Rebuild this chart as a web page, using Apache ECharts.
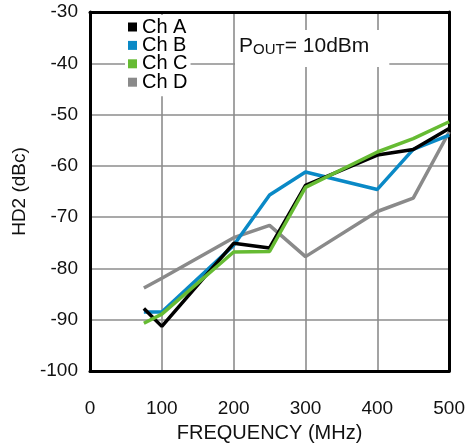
<!DOCTYPE html>
<html>
<head>
<meta charset="utf-8">
<script src="https://cdn.jsdelivr.net/npm/echarts@6/dist/echarts.min.js"></script>
<style>html,body{margin:0;padding:0;background:#fff;}#c{width:468px;height:448px;}</style>
</head>
<body>
<div id="c"></div>
<script>
// Data (frequency MHz, HD2 dBc)
const seriesNames = ['Ch A', 'Ch B', 'Ch C', 'Ch D'];
const chA = [[75, -87.8], [100, -91.3], [200, -75.1], [250, -76.0], [300, -63.8], [400, -57.9], [450, -56.8], [500, -52.7]];
const chB = [[75, -88.5], [100, -88.5], [200, -75.5], [250, -65.7], [300, -61.2], [400, -64.6], [450, -56.8], [500, -54.0]];
const chC = [[75, -90.7], [100, -88.9], [200, -76.8], [250, -76.7], [300, -64.2], [400, -57.3], [450, -54.7], [500, -51.4]];
const chD = [[75, -83.8], [100, -81.9], [200, -74.0], [250, -71.6], [300, -77.7], [400, -68.9], [450, -66.3], [500, -53.4]];
const xTicks = [0, 100, 200, 300, 400, 500];
const yTicks = [-100, -90, -80, -70, -60, -50, -40, -30];

const colors = {'Ch A': '#000000', 'Ch B': '#0a89c6', 'Ch C': '#66bb33', 'Ch D': '#8a8a8a'};
const dataMap = {'Ch A': chA, 'Ch B': chB, 'Ch C': chC, 'Ch D': chD};
const drawOrder = ['Ch D', 'Ch B', 'Ch A', 'Ch C'];
const FONT = '"Liberation Sans", Arial, sans-serif';

const chart = echarts.init(document.getElementById('c'), null, {renderer: 'canvas'});
const gridLine = {show: true, lineStyle: {color: '#8c8c8c', width: 1.6}};
const border = {show: true, onZero: false, lineStyle: {color: '#000', width: 3}};
chart.setOption({
  animation: false,
  backgroundColor: '#fff',
  grid: {left: 90, right: 18, top: 12, bottom: 77},
  title: {
    text: '{a|P}{b|OUT}{a|= 10dBm}',
    left: 235, top: 30,
    backgroundColor: '#fff',
    padding: [6, 20, 10, 4],
    textStyle: {
      fontWeight: 'normal',
      rich: {
        a: {fontFamily: FONT, fontSize: 21, lineHeight: 21, fontWeight: 'normal', color: '#111', verticalAlign: 'bottom'},
        b: {fontFamily: FONT, fontSize: 15, lineHeight: 15, fontWeight: 'normal', color: '#111', verticalAlign: 'bottom'}
      }
    }
  },
  legend: {
    data: seriesNames,
    orient: 'vertical',
    left: 125, top: 15,
    icon: 'rect',
    itemWidth: 9, itemHeight: 9,
    itemGap: -1.6,
    backgroundColor: '#fff',
    padding: [2, 3, 4, 3],
    textStyle: {fontFamily: FONT, fontSize: 20, lineHeight: 18, color: '#000'}
  },
  xAxis: [{
    type: 'value', min: xTicks[0], max: xTicks[xTicks.length - 1], interval: 100,
    name: 'FREQUENCY (MHz)', nameLocation: 'middle', nameGap: 52,
    nameTextStyle: {fontFamily: FONT, fontSize: 20, color: '#111'},
    axisLine: border, axisTick: {show: false},
    axisLabel: {fontFamily: FONT, fontSize: 19, color: '#111', margin: 28},
    splitLine: gridLine
  }, {
    type: 'value', position: 'top', min: 0, max: 500,
    axisLine: border, axisTick: {show: false}, axisLabel: {show: false}, splitLine: {show: false}
  }],
  yAxis: [{
    type: 'value', min: yTicks[0], max: yTicks[yTicks.length - 1], interval: 10,
    name: 'HD2 (dBc)', nameLocation: 'middle', nameGap: 55,
    nameTextStyle: {fontFamily: FONT, fontSize: 19, color: '#111'},
    axisLine: border, axisTick: {show: false},
    axisLabel: {fontFamily: FONT, fontSize: 19, color: '#111', margin: 12},
    splitLine: gridLine
  }, {
    type: 'value', position: 'right', min: -100, max: -30,
    axisLine: border, axisTick: {show: false}, axisLabel: {show: false}, splitLine: {show: false}
  }],
  series: drawOrder.map(n => ({
    name: n, type: 'line', data: dataMap[n],
    showSymbol: false, symbol: 'none',
    color: colors[n],
    lineStyle: {color: colors[n], width: 3.5},
    z: 3
  }))
});
</script>
</body>
</html>
